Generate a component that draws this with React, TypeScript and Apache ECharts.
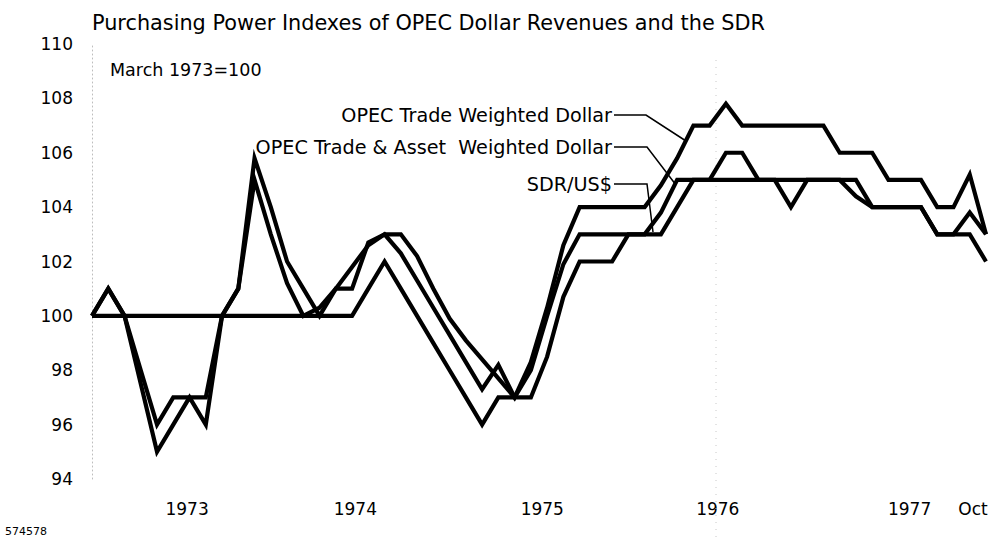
import React, { useEffect, useRef } from "react";
import * as echarts from "echarts";

// Monthly index values, March 1973 (index 0) through October 1977 (index 55); March 1973 = 100
const tradeWeighted = [
  100, 101, 100, 98, 96, 97, 97, 97, 100, 101,
  105.8, 104, 102, 101, 100, 101, 101, 102.7, 103, 103,
  102.2, 101, 99.9, 99.1, 98.4, 97.7, 97, 98.3, 100.3, 102.6,
  104, 104, 104, 104, 104, 104.8, 105.8, 107, 107, 107.8,
  107, 107, 107, 107, 107, 107, 106, 106, 106, 105,
  105, 105, 104, 104, 105.2, 103,
];
const tradeAssetWeighted = [
  100, 101, 100, 97.5, 95, 96, 97, 96, 100, 101,
  105, 103, 101.2, 100, 100.3, 101, 101.8, 102.6, 103, 102.3,
  101.3, 100.3, 99.3, 98.3, 97.3, 98.2, 97, 98, 100, 101.9,
  103, 103, 103, 103, 103, 103.8, 105, 105, 105, 106,
  106, 105, 105, 104, 105, 105, 105, 104.4, 104, 104,
  104, 104, 103, 103, 103.8, 103,
];
const sdrUsd = [
  100, 100, 100, 100, 100, 100, 100, 100, 100, 100,
  100, 100, 100, 100, 100, 100, 100, 101, 102, 101,
  100, 99, 98, 97, 96, 97, 97, 97, 98.5, 100.7,
  102, 102, 102, 103, 103, 103, 104, 105, 105, 105,
  105, 105, 105, 105, 105, 105, 105, 105, 104, 104,
  104, 104, 103, 103, 103, 102,
];

const seriesNames = [
  "OPEC Trade Weighted Dollar",
  "OPEC Trade & Asset  Weighted Dollar",
  "SDR/US$",
];

// x-axis label positions (in month index units) and texts
const xLabelPositions = [5.85, 16.2, 27.7, 38.5, 50.3, 54.2];
const xLabelTexts = ["1973", "1974", "1975", "1976", "1977", "Oct"];

const yMin = 94;
const yMax = 110;
const yInterval = 2;

const FONT = '"DejaVu Sans", Verdana, sans-serif';

const toPairs = (arr: number[]) => arr.map((v, i) => [i, v]);

export default function App() {
  const ref = useRef<HTMLDivElement | null>(null);

  useEffect(() => {
    if (!ref.current) return;
    const chart = echarts.init(ref.current, undefined, { renderer: "svg" });

    const lineStyle = { color: "#000", width: 4.2, join: "miter" as const, miterLimit: 6 };
    const mkSeries = (name: string, data: number[]) => ({
      name,
      type: "line",
      data: toPairs(data),
      symbol: "none",
      showSymbol: false,
      lineStyle,
      itemStyle: { color: "#000" },
      z: 3,
    });

    const txt = (text: string, x: number, y: number, size: number, align = "right") => ({
      type: "text",
      x,
      y,
      style: {
        text,
        fill: "#000",
        font: `${size}px ${FONT}`,
        textAlign: align,
        textVerticalAlign: "middle",
      },
      z: 10,
    });
    const leader = (pts: number[][]) => ({
      type: "polyline",
      shape: { points: pts },
      style: { stroke: "#000", lineWidth: 1.5, fill: null },
      z: 10,
    });

    chart.setOption({
      animation: false,
      backgroundColor: "#fff",
      title: {
        text: "Purchasing Power Indexes of OPEC Dollar Revenues and the SDR",
        left: 87,
        top: 7,
        textStyle: { fontFamily: FONT, fontSize: 20.8, fontWeight: "normal", color: "#000" },
      },
      grid: { left: 92, right: 19, top: 44, bottom: 67, containLabel: false },
      xAxis: {
        type: "value",
        min: 0,
        max: 55,
        axisLine: { show: false },
        axisTick: { show: false },
        splitLine: { show: false },
        axisLabel: {
          customValues: xLabelPositions,
          margin: 21,
          fontFamily: FONT,
          fontSize: 17,
          color: "#000",
          formatter: (v: number) => {
            const k = xLabelPositions.findIndex((p) => Math.abs(p - v) < 0.01);
            return k >= 0 ? xLabelTexts[k] : "";
          },
        },
      },
      yAxis: {
        type: "value",
        min: yMin,
        max: yMax,
        interval: yInterval,
        axisLine: { show: true, lineStyle: { color: "#bdbdbd", width: 1, type: [1, 3] } },
        axisTick: { show: false },
        splitLine: { show: false },
        axisLabel: { margin: 19, fontFamily: FONT, fontSize: 17, color: "#000" },
      },
      series: [
        mkSeries(seriesNames[0], tradeWeighted),
        mkSeries(seriesNames[1], tradeAssetWeighted),
        mkSeries(seriesNames[2], sdrUsd),
      ],
      graphic: [
        txt("March 1973=100", 110, 70, 17.5, "left"),
        txt(seriesNames[0], 612, 115, 19.2),
        txt(seriesNames[1], 612, 147, 19.2),
        txt(seriesNames[2], 612, 184, 19.2),
        leader([[614, 115], [646, 115], [686, 141]]),
        leader([[614, 147], [647, 147], [676, 185]]),
        leader([[614, 184], [647, 184], [653, 232]]),
        {
          type: "line",
          shape: { x1: 716, y1: 60, x2: 716, y2: 540 },
          style: { stroke: "#c8c8c8", lineWidth: 1, lineDash: [1, 6] },
          z: 1,
        },
        txt("574578", 5, 531, 11, "left"),
      ],
    });

    return () => chart.dispose();
  }, []);

  return (
    <div
      ref={ref}
      style={{ position: "fixed", left: 0, top: 0, width: 1005, height: 546, background: "#fff" }}
    />
  );
}
